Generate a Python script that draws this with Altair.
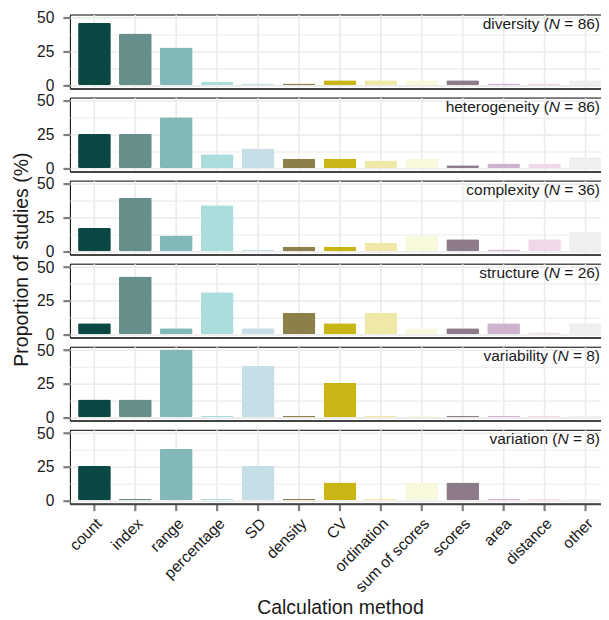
import altair as alt
import pandas as pd

methods = ["count", "index", "range", "percentage", "SD", "density", "CV",
           "ordination", "sum of scores", "scores", "area", "distance", "other"]
colors = ["#0b4743", "#668e8b", "#83b8b8", "#abdddc", "#c6dfe6", "#8b7f4a", "#c9b515",
          "#efe8a8", "#f8f8dc", "#8d7b8b", "#cdb3cd", "#f0d7ea", "#efefef"]

panels = ["diversity", "heterogeneity", "complexity", "structure", "variability", "variation"]
n_studies = [86, 86, 36, 26, 8, 8]

diversity = [46.3, 38.4, 27.9, 2.3, 1.2, 1.2, 3.5, 3.5, 3.5, 3.5, 1.2, 1.2, 3.5]
heterogeneity = [25.3, 25.3, 37.9, 10.3, 14.6, 7.0, 7.0, 5.6, 7.0, 2.2, 3.4, 3.4, 8.1]
complexity = [17.2, 39.5, 11.6, 34.2, 1.2, 3.2, 3.2, 6.2, 11.6, 8.8, 1.2, 8.8, 14.4]
structure = [8.2, 43.0, 4.4, 31.2, 4.4, 16.0, 8.2, 16.0, 4.4, 4.4, 8.2, 1.2, 8.2]
variability = [13.2, 13.2, 50.5, 1.2, 38.2, 1.2, 25.6, 1.2, 1.2, 1.2, 1.2, 1.2, 1.2]
variation = [25.6, 1.2, 38.2, 1.2, 25.6, 1.2, 13.2, 1.2, 13.2, 13.2, 1.2, 1.2, 1.2]
values = [diversity, heterogeneity, complexity, structure, variability, variation]

W = 541
H = 74
GAP = 9.2
FONT = "Liberation Sans"
FS = 15.6
FS_STRIP = 15.5
FS_TITLE = 19.5

def seg_width(s):
    w = {" ": 278, "=": 584, ")": 333, "(": 333, "N": 722}
    w.update({d: 556 for d in "0123456789"})
    return sum(w[c] for c in s) / 1000 * FS_STRIP

color_scale = alt.Scale(domain=methods, range=colors)
x_scale = alt.Scale(domain=methods, paddingInner=0.2, paddingOuter=0.2)
y_scale = alt.Scale(domain=[-2.5, 52.5], nice=False, zero=False)

charts = []
for i, (name, n, vals) in enumerate(zip(panels, n_studies, values)):
    df = pd.DataFrame({"method": methods, "value": vals})
    last = i == len(panels) - 1
    if last:
        x_axis = alt.Axis(title="Calculation method", labelAngle=-45, labelAlign="right",
                          labelBaseline="top", labelPadding=5, labelFontSize=FS,
                          labelColor="#1a1a1a", labelFont=FONT, titleFont=FONT,
                          titleFontSize=FS_TITLE, titleFontWeight="normal", titleColor="#1a1a1a",
                          titlePadding=3, grid=True,
                          tickSize=7, tickWidth=2.2, tickColor="#7f7f7f", bandPosition=0.5,
                          domainColor="#444444", domainWidth=2, gridColor="#ebebeb",
                          gridWidth=1.6)
    else:
        x_axis = alt.Axis(title=None, labels=False, ticks=False, bandPosition=0.5, grid=True,
                          domainColor="#444444", domainWidth=2, gridColor="#ebebeb",
                          gridWidth=1.6)
    y_axis_kwargs = dict(values=[0, 12.5, 25, 37.5, 50],
                         labelExpr="datum.value % 25 === 0 ? datum.label : ''",
                         labelFontSize=FS, labelColor="#1a1a1a", labelFont=FONT,
                         labelPadding=9,
                         tickSize=7, tickWidth=2.2, tickColor="#7f7f7f",
                         tickOpacity={"condition": {"test": "datum.value % 25 !== 0", "value": 0}, "value": 1},
                         gridColor="#ebebeb",
                         gridWidth={"condition": {"test": "datum.value % 25 !== 0", "value": 1.1}, "value": 1.6},
                         domain=False)
    if i == 2:
        y_axis = alt.Axis(title="Proportion of studies (%)", titleFont=FONT, titleFontSize=FS_TITLE,
                          titleFontWeight="normal", titleColor="#1a1a1a", titlePadding=5,
                          titleY=H + GAP / 2, **y_axis_kwargs)
    else:
        y_axis = alt.Axis(title=None, **y_axis_kwargs)

    bars = alt.Chart(df).mark_bar(cornerRadius=1.5).encode(
        x=alt.X("method:N", scale=x_scale, sort=methods, axis=x_axis),
        y=alt.Y("value:Q", scale=y_scale, axis=y_axis),
        color=alt.Color("method:N", scale=color_scale, legend=None),
    )

    tail = f" = {n})"
    w_tail = seg_width(tail)
    w_n = seg_width("N")
    right = W - 10
    lab = pd.DataFrame({"a": [f"{name} ("], "b": ["N"], "c": [tail]})
    base = alt.Chart(lab).mark_text(align="right", baseline="alphabetic", font=FONT,
                                    fontSize=FS_STRIP, color="#1a1a1a")
    t1 = base.encode(text="c:N", x=alt.value(right), y=alt.value(14.5))
    t2 = base.mark_text(align="right", baseline="alphabetic", font=FONT, fontSize=FS_STRIP,
                        color="#1a1a1a", fontStyle="italic").encode(
        text="b:N", x=alt.value(right - w_tail), y=alt.value(14.5))
    t3 = base.encode(text="a:N", x=alt.value(right - w_tail - w_n), y=alt.value(14.5))

    charts.append(alt.layer(bars, t1, t2, t3).properties(width=W, height=H))

chart = alt.vconcat(*charts, spacing=GAP, bounds="flush").properties(
    padding={"left": 3, "top": 1, "right": -10, "bottom": 0}
).configure_view(stroke="black", strokeWidth=1)

chart.save("out.html", embed_options={"renderer": "svg", "actions": False})
